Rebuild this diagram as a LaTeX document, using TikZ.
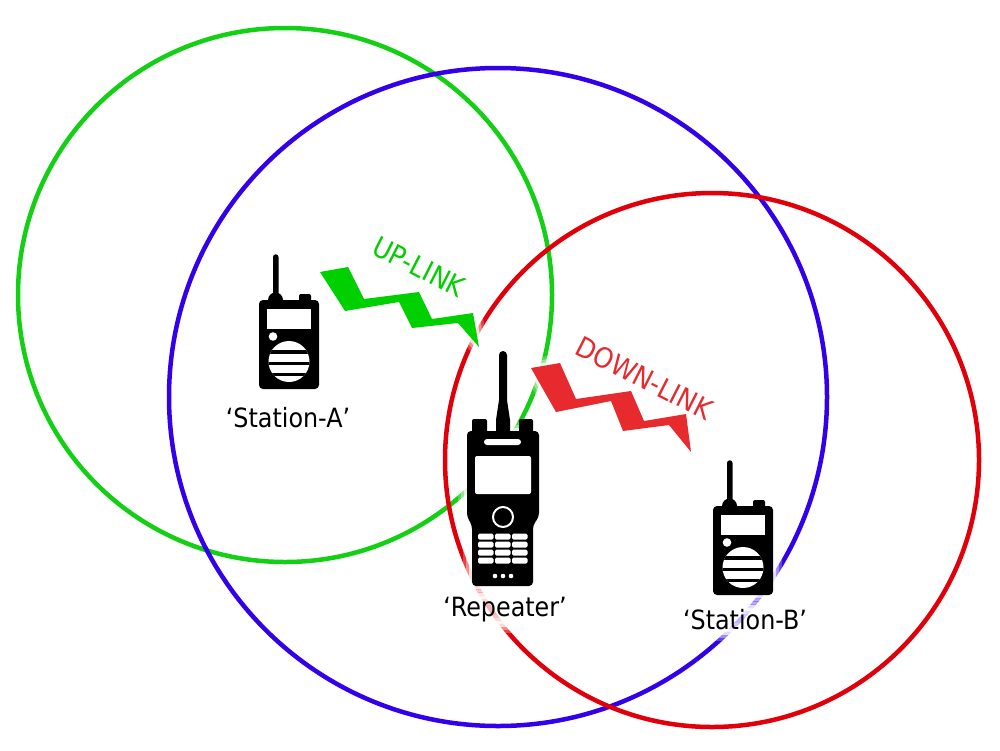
\documentclass[tikz,border=0pt]{standalone}
\usepackage{fontspec}
\setmainfont{DejaVu Sans Condensed}
\usepackage{tikz}
\definecolor{uplinkgreen}{RGB}{0,208,0}
\definecolor{ringgreen}{RGB}{20,208,20}
\definecolor{ringblue}{RGB}{50,0,235}
\definecolor{ringred}{RGB}{225,0,10}
\definecolor{downlinkred}{RGB}{230,42,46}
\tikzset{
  ring/.style={line width=4.5pt},
  softedge/.style={
    preaction={draw=white,line width=18pt,opacity=.25,line join=round},
    preaction={draw=white,line width=12pt,opacity=.4,line join=round},
    preaction={draw=white,line width=6pt,opacity=.7,line join=round}},
  caption/.style={inner sep=2pt,font=\fontsize{26.5}{30}\selectfont,text=black,fill=white,fill opacity=.7,text opacity=1,softedge},
  linklabel/.style={inner sep=0pt,rotate=-27,font=\fontsize{28}{32}\selectfont},
  % small handheld, origin at the top left of its body
  handheld/.pic={
    \fill[black,softedge,rounded corners=4pt] (0,0) rectangle (60,89);
    \fill[black] (14,-43) arc[start angle=180,end angle=360,radius=2.75] -- (19.5,2) -- (14,2) -- cycle;
    \fill[black] (9,2) -- (9,0) arc[start angle=180,end angle=360,radius=7.5] -- (24,2) -- cycle;
    \fill[black,rounded corners=2pt] (40,-6) rectangle (52,3);
    \fill[white] (8,9) rectangle (52,29);
    \fill[white] (14,36.5) circle [radius=4.3];
    \begin{scope}
      \clip (30,61.5) circle [radius=20.5];
      \fill[white] (9,40) rectangle (51,83);
      \fill[black] (9,50) rectangle (51,53.5);
      \fill[black] (9,61.5) rectangle (51,65);
      \fill[black] (9,72.5) rectangle (51,76);
    \end{scope}
  }
}
\begin{document}
\begin{tikzpicture}[x=1pt,y=-1pt]
\useasboundingbox (0,0) rectangle (1000,750);
\fill[white] (0,0) rectangle (1000,750);

\draw[ring,ringgreen] (285,295) circle [radius=267];
\draw[ring,ringblue] (498,397) circle [radius=329];
\draw[ring,ringred] (712,460) circle [radius=267];

\fill[uplinkgreen,softedge] (320,272) -- (348,267) -- (364,299) -- (419,292) -- (432,319) -- (473,313) -- (479,347) -- (458,323) -- (412,328) -- (399,302) -- (345,311) -- cycle;
\fill[downlinkred,softedge] (531,368) -- (560,363) -- (576,399) -- (631,391) -- (644,421) -- (686,414) -- (691,452) -- (669,425) -- (623,431) -- (611,401) -- (556,412) -- cycle;

\node (uplink) at (419,267) [linklabel,text=uplinkgreen] {UP-LINK};
\node (downlink) at (644,378) [linklabel,text=downlinkred] {DOWN-LINK};

\pic (stationa) at (259,300) {handheld};
\pic (stationb) at (713,506) {handheld};

% repeater
\fill[black,softedge,rounded corners=4pt] (467,431) -- (539,431) -- (539,517) -- (533,525) -- (533,586) -- (472,586) -- (472,525) -- (467,517) -- cycle;
\fill[black,rounded corners=2pt] (472,419) rectangle (487,436);
\fill[black,rounded corners=2pt] (519,419) rectangle (533,436);
\fill[black] (499,355) arc[start angle=180,end angle=360,radius=4] -- (507,400) -- (510,420) -- (510,436) -- (496,436) -- (496,420) -- (499,400) -- cycle;
\fill[white,rounded corners=3pt] (484,439) rectangle (521,445);
\fill[white,rounded corners=2pt] (475,456) rectangle (531,494);
\draw[white,line width=2pt] (503,517) circle [radius=10];
\foreach \row in {0,1,2,3} {
  \foreach \col in {0,1,2} {
    \fill[white,rounded corners=1.5pt] (478+17*\col,533.5+8*\row) rectangle (493.5+17*\col,539.5+8*\row);
  }
}
\foreach \col in {495,503,511} {
  \fill[white] (\col,576) circle [radius=2.3];
}

\node (labela) at (288,418) [caption] {‘Station-A’};
\node (labelr) at (505,610) [caption] {‘Repeater’};
\node (labelb) at (745,620) [caption] {‘Station-B’};
\end{tikzpicture}
\end{document}
